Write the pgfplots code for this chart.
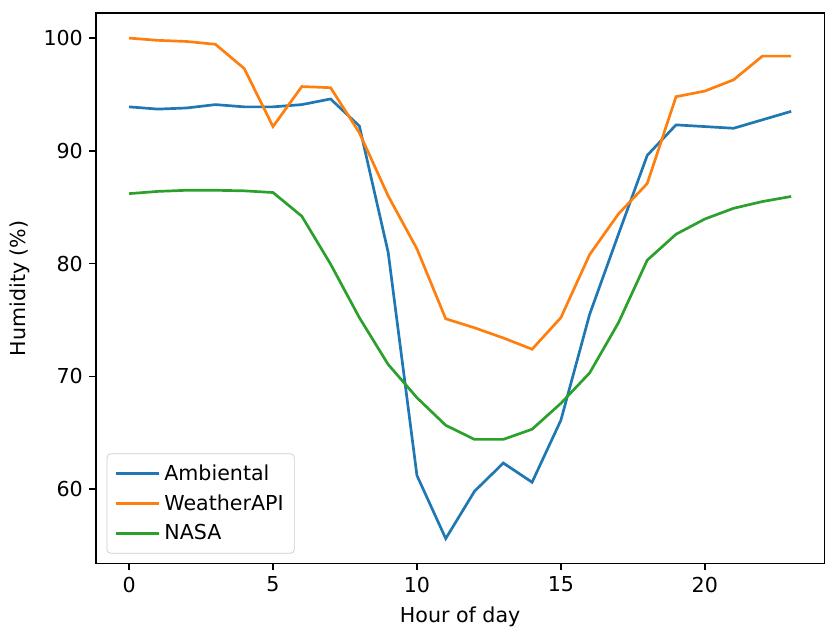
\documentclass[border=0pt]{standalone}
\usepackage{fontspec}
\setmainfont{DejaVu Sans}
\usepackage{pgfplots}
\pgfplotsset{compat=1.18}
\definecolor{tabblue}{HTML}{1F77B4}
\definecolor{taborange}{HTML}{FF7F0E}
\definecolor{tabgreen}{HTML}{2CA02C}
\begin{document}
\begin{tikzpicture}
\begin{axis}[
    scale only axis,
    width=406.8pt, height=307.5pt,
    xmin=-1.15, xmax=24.15,
    ymin=53.38, ymax=102.22,
    xtick={0,5,10,15,20},
    ytick={60,70,80,90,100},
    tick align=outside,
    major tick length=3.8pt,
    tick style={black, line width=0.8pt},
    axis line style={line width=0.8pt},
    xtick pos=bottom, ytick pos=left,
    /pgf/number format/assume math mode=true,
    ticklabel style={font=\fontsize{11.5}{13.8}\selectfont},
    xticklabel style={yshift=0pt},
    xlabel={Hour of day},
    ylabel={Humidity (\%)},
    label style={font=\fontsize{11.5}{13.8}\selectfont},
    xlabel style={at={(axis description cs:0.5,0)}, anchor=center, yshift=-29.6pt},
    ylabel style={at={(axis description cs:0,0.5)}, anchor=center, yshift=42.4pt},
    legend style={at={(6pt,5.6pt)}, anchor=south west,
        draw=black!20, rounded corners=2pt, fill=white,
        font=\fontsize{11.5}{13.8}\selectfont,
        row sep=2.5pt, inner sep=4pt},
    legend cell align=left,
    legend image code/.code={\draw[#1, line width=1.5pt] (0pt,0pt) -- (24.5pt,0pt);},
    every axis plot/.append style={line width=1.5pt, mark=none},
]
\addplot[tabblue] coordinates {
(0,93.9) (1,93.7) (2,93.8) (3,94.1) (4,93.9) (5,93.9) (6,94.1) (7,94.6)
(8,92.2) (9,81.0) (10,61.2) (11,55.6) (12,59.8) (13,62.3) (14,60.6) (15,66.1)
(16,75.5) (17,82.6) (18,89.6) (19,92.3) (20,92.15) (21,92.0) (22,92.75) (23,93.5)
};
\addplot[taborange] coordinates {
(0,100.0) (1,99.8) (2,99.7) (3,99.45) (4,97.3) (5,92.15) (6,95.7) (7,95.6)
(8,91.6) (9,86.0) (10,81.3) (11,75.1) (12,74.3) (13,73.4) (14,72.4) (15,75.2)
(16,80.8) (17,84.4) (18,87.1) (19,94.8) (20,95.3) (21,96.3) (22,98.4) (23,98.4)
};
\addplot[tabgreen] coordinates {
(0,86.2) (1,86.4) (2,86.5) (3,86.5) (4,86.45) (5,86.3) (6,84.2) (7,79.95)
(8,75.2) (9,71.05) (10,68.1) (11,65.65) (12,64.4) (13,64.4) (14,65.3) (15,67.6)
(16,70.3) (17,74.75) (18,80.3) (19,82.6) (20,83.95) (21,84.9) (22,85.5) (23,85.95)
};
\legend{Ambiental, WeatherAPI, NASA}
\end{axis}
\path ([xshift=-53.6pt,yshift=-36.3pt]current axis.south west)
  rectangle ([yshift=7.3pt]current axis.north east);
\end{tikzpicture}
\end{document}
